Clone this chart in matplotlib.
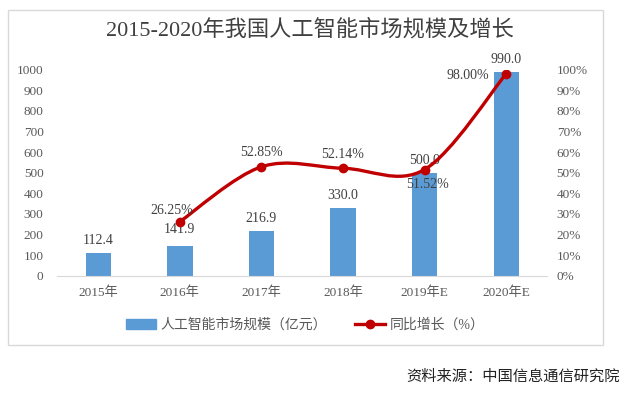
import numpy as np
import matplotlib
matplotlib.use("Agg")
import matplotlib.pyplot as plt
from matplotlib.path import Path
from matplotlib.patches import PathPatch, Rectangle
from matplotlib.lines import Line2D

plt.rcParams['font.family'] = ['Liberation Serif', 'Noto Sans CJK SC']

years = ['2015年', '2016年', '2017年', '2018年', '2019年E', '2020年E']
market = [112.4, 141.9, 216.9, 330.0, 500.0, 990.0]
growth_years = [1, 2, 3, 4, 5]
growth = [0.2625, 0.5285, 0.5214, 0.5152, 0.98]
growth_labels = ['26.25%', '52.85%', '52.14%', '51.52%', '98.00%']

bar_color = '#5B9BD5'
line_color = '#C00000'
text_color = '#404040'
tick_color = '#595959'

fig = plt.figure(figsize=(6.4, 3.93), dpi=100)
W, H = 640, 393

# outer frame
fig.patches.append(Rectangle((8 / W, 1 - 345 / H), (603 - 8) / W, (345 - 10) / H,
                             transform=fig.transFigure, fill=False,
                             edgecolor='#D9D9D9', lw=1.0))

ax = fig.add_axes([57.5 / W, 1 - 275.7 / H, (547 - 57.5) / W, (275.7 - 69.6) / H])
x = np.arange(len(years))
ax.bar(x, market, width=0.31, color=bar_color, zorder=2)
ax.set_xlim(-0.5, len(years) - 0.5)
ax.set_ylim(0, 1000)
ax.set_yticks(range(0, 1001, 100))
ax.set_xticks(x)
ax.set_xticklabels(years)
for s in ['top', 'right', 'left']:
    ax.spines[s].set_visible(False)
ax.spines['bottom'].set_color('#D9D9D9')
ax.tick_params(axis='both', length=0, labelsize=9.5, colors=tick_color)
ax.tick_params(axis='y', pad=10)
ax.tick_params(axis='x', pad=8)

ax2 = ax.twinx()
ax2.set_ylim(0, 1.0)
ax2.set_yticks(np.arange(0, 1.01, 0.1))
ax2.set_yticklabels([f'{int(round(v * 100))}%' for v in np.arange(0, 1.01, 0.1)])
for s in ax2.spines.values():
    s.set_visible(False)
ax2.tick_params(axis='y', length=0, labelsize=9.5, colors=tick_color, pad=7)

# smoothed line drawn as bezier segments through the data points
px = np.array(growth_years, dtype=float)
py = np.array(growth)
verts = [(px[0], py[0])]
codes = [Path.MOVETO]
n = len(px)
for i in range(n - 1):
    p0 = (px[max(i - 1, 0)], py[max(i - 1, 0)])
    p1 = (px[i], py[i])
    p2 = (px[i + 1], py[i + 1])
    p3 = (px[min(i + 2, n - 1)], py[min(i + 2, n - 1)])
    c1 = (p1[0] + (p2[0] - p0[0]) / 6, p1[1] + (p2[1] - p0[1]) / 6)
    c2 = (p2[0] - (p3[0] - p1[0]) / 6, p2[1] - (p3[1] - p1[1]) / 6)
    verts += [c1, c2, p2]
    codes += [Path.CURVE4] * 3
ax2.add_patch(PathPatch(Path(verts, codes), fill=False, edgecolor=line_color,
                        lw=2.4, zorder=3, capstyle='round'))
ax2.plot(px, py, 'o', color=line_color, markersize=6, zorder=4)

# bar labels
bar_off = [9, 12, 9, 9, 9, 9]
for xi, v, o in zip(x, market, bar_off):
    ax.annotate(f'{v:.1f}', (xi, v), xytext=(0, o), textcoords='offset points',
                ha='center', va='center', fontsize=10, color=text_color)

# growth labels
lab_off = [(-6, 8), (0, 10), (0, 10), (2, -11), (-28, -1)]
for xi, v, t, o in zip(px, py, growth_labels, lab_off):
    ax2.annotate(t, (xi, v), xytext=o, textcoords='offset points',
                 ha='center', va='center', fontsize=10, color=text_color)

fig.text(310 / W, 1 - 30 / H, '2015-2020年我国人工智能市场规模及增长',
         ha='center', va='center', fontsize=16, color=text_color)

handles = [Rectangle((0, 0), 1, 1, color=bar_color),
           Line2D([], [], color=line_color, lw=2.4, marker='o', markersize=6)]
fig.legend(handles, ['人工智能市场规模（亿元）', '同比增长（%）'],
           loc='center', bbox_to_anchor=(305 / W, 1 - 325 / H), ncol=2,
           frameon=False, fontsize=10, handlelength=2.2, columnspacing=2.0,
           labelcolor=tick_color, handletextpad=0.3)

fig.text(620 / W, 1 - 377 / H, '资料来源：中国信息通信研究院', ha='right',
         va='center', fontsize=11, color='#222222')

fig.savefig('out.png', dpi=100)
